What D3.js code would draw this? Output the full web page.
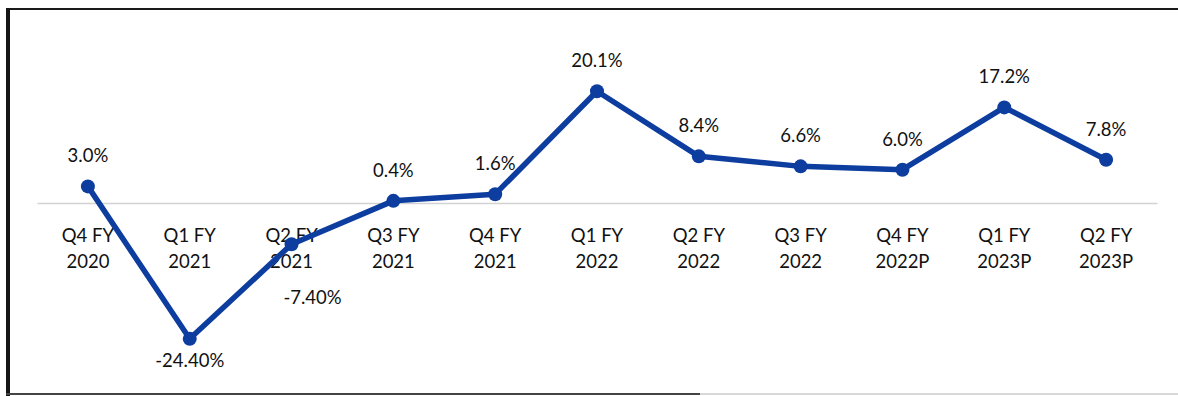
<!DOCTYPE html>
<html>
<head>
<meta charset="utf-8">
<script src="https://cdn.jsdelivr.net/npm/d3@7/dist/d3.min.js"></script>
<style>
  html, body { margin: 0; padding: 0; background: #ffffff; }
  svg { display: block; }
  text { font-family: Lato, "Open Sans", sans-serif; fill: #111111; }
</style>
</head>
<body>
<svg id="chart" width="1178" height="396"></svg>
<script>
// Quarterly growth series
const quarters = ["Q4 FY", "Q1 FY", "Q2 FY", "Q3 FY", "Q4 FY", "Q1 FY", "Q2 FY", "Q3 FY", "Q4 FY", "Q1 FY", "Q2 FY"];
const years = ["2020", "2021", "2021", "2021", "2021", "2022", "2022", "2022", "2022P", "2023P", "2023P"];
const growth = [3.0, -24.4, -7.4, 0.4, 1.6, 20.1, 8.4, 6.6, 6.0, 17.2, 7.8];
const valueLabels = ["3.0%", "-24.40%", "-7.40%", "0.4%", "1.6%", "20.1%", "8.4%", "6.6%", "6.0%", "17.2%", "7.8%"];

const categories = quarters.map((q, i) => q + " " + years[i]);
const data = categories.map((c, i) => ({ cat: c, q: quarters[i], yr: years[i], v: growth[i], label: valueLabels[i] }));

const svg = d3.select("#chart");
const W = 1178, H = 396;

// Frame
svg.append("rect").attr("x", 0).attr("y", 0).attr("width", W).attr("height", H).attr("fill", "#ffffff");
svg.append("line").attr("x1", 8).attr("x2", W).attr("y1", 9).attr("y2", 9)
  .attr("stroke", "#1a1a1a").attr("stroke-width", 2);
svg.append("line").attr("x1", 8).attr("x2", 8).attr("y1", 8).attr("y2", 396)
  .attr("stroke", "#151515").attr("stroke-width", 4);
svg.append("line").attr("x1", 6).attr("x2", 700).attr("y1", 394).attr("y2", 394)
  .attr("stroke", "#444").attr("stroke-width", 2);
svg.append("line").attr("x1", 700).attr("x2", W).attr("y1", 394).attr("y2", 394)
  .attr("stroke", "#d8d8d8").attr("stroke-width", 2);

const x = d3.scaleBand().domain(categories).range([37, 1157]).padding(0);
const y = d3.scaleLinear().domain([-30, 25]).range([370, 64]);
const cx = d => x(d.cat) + x.bandwidth() / 2;

// Zero baseline with two-line category labels
const axis = svg.append("g")
  .attr("transform", `translate(0,${y(0)})`)
  .call(d3.axisBottom(x).tickSize(0).tickSizeOuter(0).tickFormat(() => ""));
axis.select(".domain").attr("stroke", "#d2d2d2").attr("stroke-width", 1.5);

const catText = axis.selectAll(".tick text")
  .attr("y", 0).attr("dy", null)
  .attr("font-size", 18.5)
  .attr("fill", "#111111")
  .style("font-family", "Lato, 'Open Sans', sans-serif");
catText.each(function (c, i) {
  const t = d3.select(this);
  t.append("tspan").attr("x", 0).attr("y", 39).text(quarters[i]);
  t.append("tspan").attr("x", 0).attr("y", 65).text(years[i]);
});

// Series line and markers
const line = d3.line().x(cx).y(d => y(d.v));
svg.append("path").datum(data)
  .attr("d", line)
  .attr("fill", "none")
  .attr("stroke", "#0c3d9f")
  .attr("stroke-width", 5.5)
  .attr("stroke-linejoin", "round");

svg.selectAll("circle.pt").data(data).join("circle")
  .attr("class", "pt")
  .attr("cx", cx)
  .attr("cy", d => y(d.v))
  .attr("r", 7)
  .attr("fill", "#0c3d9f");

// Value labels: above positives, below negatives; a negative label that
// would land on the category labels is moved below them and to the right.
const catBandBottom = y(0) + 72;
svg.selectAll("text.val").data(data).join("text")
  .attr("class", "val")
  .attr("font-size", 18.5)
  .attr("text-anchor", "middle")
  .each(function (d) {
    const t = d3.select(this);
    let px = cx(d), py;
    if (d.v >= 0) {
      py = y(d.v) - 24;
    } else {
      py = y(d.v) + 28;
      if (py - 16 < catBandBottom) { py = catBandBottom + 29; px += 21; }
    }
    t.attr("x", px).attr("y", py).text(d.label);
  });
</script>
</body>
</html>
